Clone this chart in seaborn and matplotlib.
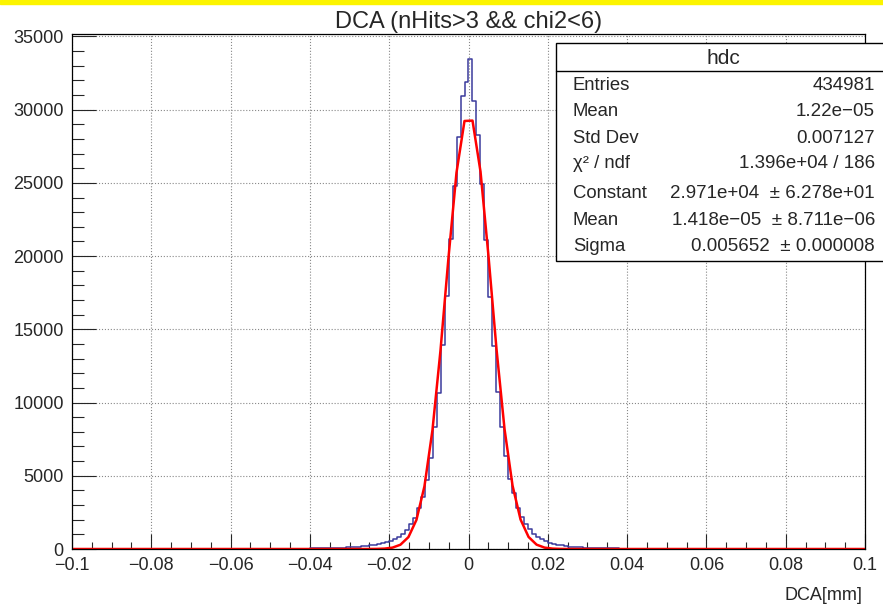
import numpy as np
import pandas as pd
import seaborn as sns
import matplotlib.pyplot as plt
from matplotlib.patches import Rectangle
from matplotlib.lines import Line2D
from matplotlib.ticker import MultipleLocator

# histogram range: 200 bins of 0.001 from -0.1 to 0.1
X_LO, X_HI, N_BINS = -0.1, 0.1, 200

# bins -0.100 ... -0.041
left_tail = [2, 2, 2, 2, 3, 3, 3, 3, 3, 3,
             4, 4, 4, 4, 5, 5, 5, 5, 6, 6,
             6, 7, 7, 7, 8, 8, 9, 9, 10, 10,
             11, 11, 12, 12, 13, 14, 14, 15, 16, 17,
             18, 19, 19, 20, 21, 22, 23, 24, 25, 26,
             27, 28, 29, 30, 31, 31, 32, 33, 33, 34]
# bins -0.040 ... -0.001
core_left = [36, 40, 46, 52, 58, 65, 75, 85, 95, 105,
             120, 140, 160, 180, 210, 240, 280, 330, 390, 460,
             550, 680, 830, 1030, 1300, 1700, 2090, 2780, 3570, 4700,
             6190, 8340, 10660, 13900, 17250, 21140, 24780, 28120, 30900, 31870]
# bins 0.000 ... 0.039
core_right = [33470, 30620, 28300, 24940, 21070, 17200, 13840, 10690, 8340, 6340,
              4770, 3800, 2820, 2200, 1700, 1360, 1050, 840, 680, 530,
              420, 350, 290, 240, 200, 170, 150, 130, 110, 95,
              82, 72, 63, 56, 50, 44, 40, 36, 33, 30]
# bins 0.040 ... 0.099
right_tail = [28, 26, 24, 22, 21, 20, 19, 18, 17, 16,
              15, 14, 13, 13, 12, 11, 11, 10, 10, 9,
              9, 8, 8, 8, 7, 7, 7, 6, 6, 6,
              6, 5, 5, 5, 5, 4, 4, 4, 4, 4,
              3, 3, 3, 3, 3, 3, 3, 2, 2, 2,
              2, 2, 2, 2, 2, 2, 2, 1, 1, 1]

# gaus fit parameters (from the stats box)
fit_const = 2.971e4
fit_mean = 1.418e-5
fit_sigma = 0.005652

stat_labels = ['Entries', 'Mean', 'Std Dev', 'χ² / ndf', 'Constant', 'Mean', 'Sigma']
stat_values = ['434981', '1.22e\u221205', '0.007127', '1.396e+04 / 186',
               '2.971e+04  \u00b1 6.278e+01', '1.418e\u221205  \u00b1 8.711e\u221206',
               '0.005652  \u00b1 0.000008']

W, H = 883, 607

sns.set_style('ticks')
plt.rcParams['font.family'] = ['Liberation Sans', 'DejaVu Sans']
plt.rcParams['axes.unicode_minus'] = True

counts = left_tail + core_left + core_right + right_tail
width = (X_HI - X_LO) / N_BINS
df = pd.DataFrame({'dca': X_LO + width * (np.arange(N_BINS) + 0.5), 'n': counts})

fig = plt.figure(figsize=(W / 100, H / 100), dpi=100)
ax = fig.add_axes([72 / W, 1 - 549 / H, (865 - 72) / W, (549 - 33.5) / H])

sns.histplot(data=df, x='dca', weights='n', bins=N_BINS, binrange=(X_LO, X_HI),
             element='step', fill=False, color='#3a3a9c', linewidth=1.1, ax=ax)

xf = np.linspace(X_LO, X_HI, 100)
fit = pd.DataFrame({'x': xf, 'y': fit_const * np.exp(-0.5 * ((xf - fit_mean) / fit_sigma) ** 2)})
sns.lineplot(data=fit, x='x', y='y', color='red', linewidth=1.8, ax=ax)

ax.set_xlim(X_LO, X_HI)
ax.set_ylim(0, 35200)
ax.set_xlabel('')
ax.set_ylabel('')
ax.xaxis.set_major_locator(MultipleLocator(0.02))
ax.xaxis.set_minor_locator(MultipleLocator(0.005))
ax.yaxis.set_major_locator(MultipleLocator(5000))
ax.yaxis.set_minor_locator(MultipleLocator(1000))
ax.set_xticks(np.arange(-0.1, 0.1001, 0.02))
ax.set_xticklabels(['\u22120.1', '\u22120.08', '\u22120.06', '\u22120.04', '\u22120.02', '0',
                    '0.02', '0.04', '0.06', '0.08', '0.1'])
ax.grid(True, which='major', linestyle=':', color='#888888', linewidth=0.8)
ax.tick_params(axis='x', which='major', direction='in', length=11, width=0.8, labelsize=13, pad=5.5)
ax.tick_params(axis='x', which='minor', direction='in', length=5, width=0.8)
ax.tick_params(axis='y', which='major', direction='in', length=17, width=0.8, labelsize=13, pad=6)
ax.tick_params(axis='y', which='minor', direction='in', length=8.5, width=0.8)
for s in ax.spines.values():
    s.set_visible(True)
    s.set_linewidth(0.9)
    s.set_color('black')
# the "0" on the y axis sits a little above the axis, as in ROOT
ax.get_yticklabels()[0].set_verticalalignment('bottom')

# yellow strip on top of canvas
fig.add_artist(Rectangle((0, 1 - 4 / H), 1, 4 / H, transform=fig.transFigure,
                         color='#fcf400', zorder=0))

fig.text(469 / W, 1 - 22 / H, 'DCA (nHits>3 && chi2<6)', ha='center', va='center', fontsize=17)
fig.text(862 / W, 1 - 596 / H, 'DCA[mm]', ha='right', va='center', fontsize=13)

# stats box
bx0, by_top, by_bot = 556, 43, 261
fig.add_artist(Rectangle((bx0 / W, 1 - by_bot / H), (W + 10 - bx0) / W, (by_bot - by_top) / H,
                         transform=fig.transFigure, facecolor='white', edgecolor='black',
                         linewidth=1.0, zorder=5))
fig.add_artist(Line2D([bx0 / W, 1.01], [1 - 70.7 / H, 1 - 70.7 / H], transform=fig.transFigure,
                      color='black', linewidth=1.0, zorder=6))
fig.text(723 / W, 1 - 58 / H, 'hdc', ha='center', va='center', fontsize=15, zorder=7)
row_y = [85, 111.5, 138.5, 164, 194, 220.5, 246.5]
for lab, val, yy in zip(stat_labels, stat_values, row_y):
    fig.text(573 / W, 1 - yy / H, lab, ha='left', va='center', fontsize=13.3, zorder=7)
    fig.text(875 / W, 1 - yy / H, val, ha='right', va='center', fontsize=13.5, zorder=7)

fig.savefig('out.png', dpi=100)
